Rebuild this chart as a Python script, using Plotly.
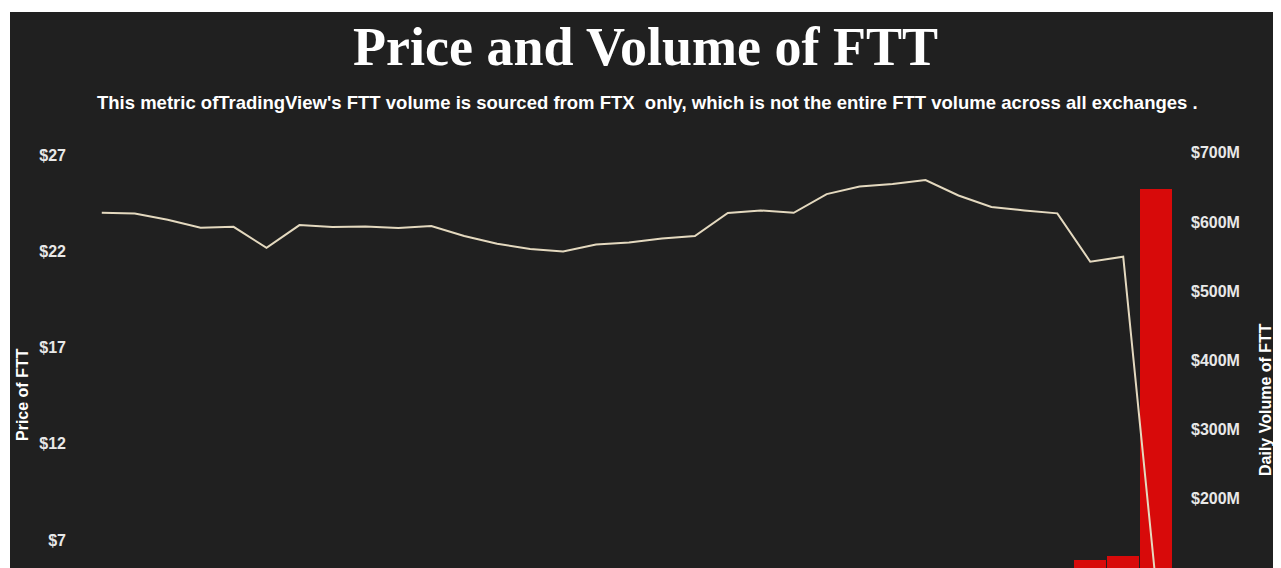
import plotly.graph_objects as go

# ---- data ----
dates = ["2022-10-07", "2022-10-08", "2022-10-09", "2022-10-10", "2022-10-11", "2022-10-12",
         "2022-10-13", "2022-10-14", "2022-10-15", "2022-10-16", "2022-10-17", "2022-10-18",
         "2022-10-19", "2022-10-20", "2022-10-21", "2022-10-22", "2022-10-23", "2022-10-24",
         "2022-10-25", "2022-10-26", "2022-10-27", "2022-10-28", "2022-10-29", "2022-10-30",
         "2022-10-31", "2022-11-01", "2022-11-02", "2022-11-03", "2022-11-04", "2022-11-05",
         "2022-11-06", "2022-11-07", "2022-11-08"]
price = [24.00, 23.96, 23.64, 23.22, 23.27, 22.18, 23.36, 23.26, 23.29, 23.21, 23.31, 22.79,
         22.39, 22.12, 21.99, 22.35, 22.46, 22.66, 22.79, 23.99, 24.12, 24.00, 24.97, 25.36,
         25.49, 25.70, 24.90, 24.30, 24.12, 23.97, 21.46, 21.72, 4.6]
volume_m = [38, 25, 22, 41, 35, 52, 47, 30, 24, 36, 33, 45, 40, 37, 28, 26, 31, 34, 29, 58,
            49, 42, 55, 61, 47, 44, 39, 36, 27, 33, 112, 117, 648]
price_ticks = [7, 12, 17, 22, 27]
price_tick_labels = ["$7", "$12", "$17", "$22", "$27"]
volume_ticks = [100, 200, 300, 400, 500, 600, 700]
volume_tick_labels = ["$100M", "$200M", "$300M", "$400M", "$500M", "$600M", "$700M"]

title_text = "Price and Volume of FTT"
subtitle_text = ("This metric ofTradingView's FTT volume is sourced from FTX  only, "
                 "which is not the entire FTT volume across all exchanges .")

# ---- layout geometry (page is offset by the 8px body margin) ----
OFF = 8
W, H = 1281 - OFF, 568 - OFF
ML, MR, MT, MB = 75 - OFF, 1281 - 1185, 130 - OFF, 0
PW, PH = W - ML - MR, H - MT - MB
BG = "#202020"


def px(x_page):
    return (x_page - OFF - ML) / PW


def py(y_page):
    return 1 - (y_page - OFF - MT) / PH


x_range = ["2022-10-06 04:30", "2022-11-08 21:00"]

fig = go.Figure()
fig.add_trace(go.Bar(x=dates, y=volume_m, yaxis="y", marker=dict(color="#d80a0a", line=dict(width=0)),
                     width=0.97 * 86400000, showlegend=False, hoverinfo="x+y"))
fig.add_trace(go.Scatter(x=dates, y=price, yaxis="y2", mode="lines",
                         line=dict(color="#e4d9bf", width=2), showlegend=False))

tickfont = dict(family="Liberation Sans, Arial, sans-serif", size=16, color="#e8e8e8", weight="bold")
axis_title_font = dict(family="Liberation Sans, Arial, sans-serif", size=16, color="white",
                       weight="bold")

fig.update_layout(
    width=W, height=H,
    margin=dict(l=ML, r=MR, t=MT, b=MB, pad=0),
    paper_bgcolor="white",
    plot_bgcolor="rgba(0,0,0,0)",
    bargap=0,
    xaxis=dict(type="date", range=x_range, showgrid=False, zeroline=False, showline=False,
               showticklabels=False, ticks=""),
    yaxis=dict(side="right", range=[100, 733], tickmode="array", tickvals=volume_ticks,
               ticktext=volume_tick_labels, showgrid=False, zeroline=False, showline=False, ticks="",
               tickfont=tickfont, ticklabelstandoff=5),
    yaxis2=dict(side="left", overlaying="y", range=[5.55, 28.30], tickmode="array",
                tickvals=price_ticks, ticktext=price_tick_labels, showgrid=False, zeroline=False,
                showline=False, ticks="", tickfont=tickfont, ticklabelstandoff=8),
    shapes=[dict(type="rect", xref="paper", yref="paper", x0=px(10), x1=px(1300), y0=py(600),
                 y1=py(12), fillcolor=BG, line=dict(width=0), layer="below")],
    annotations=[
        dict(text=title_text, x=px(645), y=py(47), xref="paper", yref="paper", showarrow=False,
             xanchor="center", yanchor="middle",
             font=dict(family="Liberation Serif, Times New Roman, serif", size=54, color="white",
                       weight="bold")),
        dict(text=subtitle_text, x=px(648), y=py(103), xref="paper", yref="paper", showarrow=False,
             xanchor="center", yanchor="middle",
             font=dict(family="Liberation Sans, Arial, sans-serif", size=18.5, color="white",
                       weight="bold")),
        dict(text="Price of FTT", x=px(22), y=py(395), xref="paper", yref="paper", showarrow=False,
             textangle=-90, xanchor="center", yanchor="middle", font=axis_title_font),
        dict(text="Daily Volume of FTT", x=px(1265), y=py(400), xref="paper", yref="paper",
             showarrow=False, textangle=-90, xanchor="center", yanchor="middle",
             font=axis_title_font),
    ],
)

fig.write_html("out.html")
